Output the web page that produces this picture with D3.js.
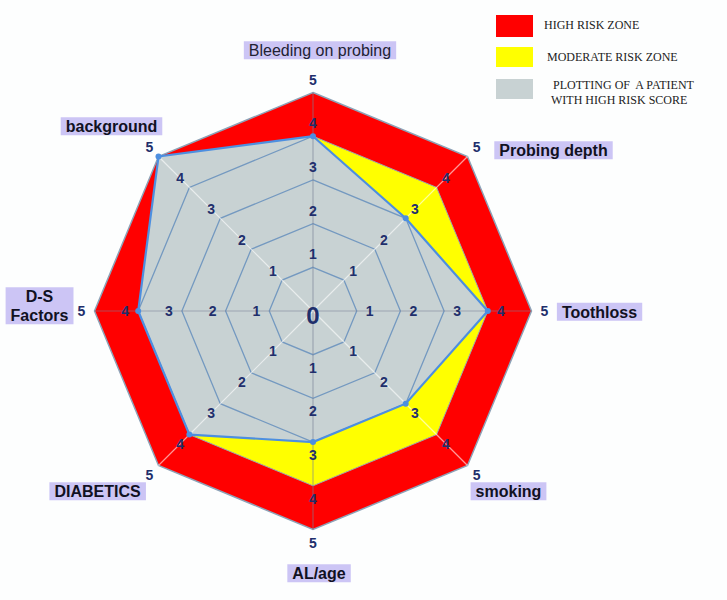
<!DOCTYPE html>
<html><head><meta charset="utf-8">
<script src="https://cdn.jsdelivr.net/npm/d3@7"></script>
<style>html,body{margin:0;padding:0;background:#fdfefe;}svg{display:block;}</style>
</head><body>
<script>
const categories = ["Bleeding on probing","Probing depth","Toothloss","smoking","AL/age","DIABETICS","D-S Factors","background"];
const highRisk = [5,5,5,5,5,5,5,5];
const moderateRisk = [4,4,4,4,4,4,4,4];
const patient = [4,3,4,3,3,4,4,5];
const tickValues = [1,2,3,4,5];
const legendItems = ["HIGH RISK ZONE","MODERATE RISK ZONE","PLOTTING OF  A PATIENT|WITH HIGH RISK SCORE"];

const W = 727, H = 600, cx = 313, cy = 311;
const svg = d3.select("body").append("svg").attr("width", W).attr("height", H);
const r = d3.scaleLinear().domain([0,5]).range([0,218.5]);
const ang = d3.scalePoint().domain(d3.range(categories.length)).range([0, 2*Math.PI*(categories.length-1)/categories.length]);
const pt = (i, v) => [cx + r(v)*Math.sin(ang(i)), cy - r(v)*Math.cos(ang(i))];
const line = d3.line().curve(d3.curveLinearClosed);
const poly = vals => line(vals.map((v,i)=>pt(i,v)));

// zones
svg.append("path").attr("d", poly(highRisk)).attr("fill","#ff0000").attr("stroke","#8da3b8").attr("stroke-width",1.5);
svg.append("path").attr("d", poly(moderateRisk)).attr("fill","#ffff00").attr("stroke","#9aa8b0").attr("stroke-width",1);
// patient fill
svg.append("path").attr("d", poly(patient)).attr("fill","#c8d2d3");

// grid clipped to patient
svg.append("clipPath").attr("id","pc").append("path").attr("d", poly(patient));
const g = svg.append("g").attr("clip-path","url(#pc)");
[1,2,3,4].forEach(t => {
  g.append("path").attr("d", poly(categories.map(()=>t))).attr("fill","none").attr("stroke","#7499c0").attr("stroke-width",1.3);
});

// spokes
categories.forEach((c,i) => {
  const p = pt(i,5);
  const diag = i % 2 === 1;
  svg.append("line").attr("x1",cx).attr("y1",cy).attr("x2",p[0]).attr("y2",p[1])
    .attr("stroke", diag ? "rgba(255,255,255,0.6)" : "rgba(120,130,150,0.55)").attr("stroke-width",1.2);
});

// patient outline + markers
svg.append("path").attr("d", poly(patient)).attr("fill","none").attr("stroke","#4d8fe0").attr("stroke-width",2.2);
patient.forEach((v,i) => {
  const p = pt(i,v);
  svg.append("circle").attr("cx",p[0]).attr("cy",p[1]).attr("r",3).attr("fill","#4d8fe0");
});

// tick labels
const tickColor = "#1f2f6c";
categories.forEach((c,i) => {
  tickValues.forEach(t => {
    const p = pt(i, t + 13/r(1));
    svg.append("text").attr("x",p[0]).attr("y",p[1]).attr("dy","0.36em")
      .attr("text-anchor","middle").attr("font-family","Liberation Sans, Arial, sans-serif")
      .attr("font-size", 14).attr("font-weight","bold").attr("fill", tickColor).text(t);
  });
});
svg.append("text").attr("x",cx).attr("y",cy+4).attr("dy","0.36em").attr("text-anchor","middle")
  .attr("font-family","Liberation Sans, Arial, sans-serif").attr("font-size",24).attr("font-weight","bold")
  .attr("fill",tickColor).text("0");

// category labels (layout offsets from axis end)
const labelOffsets = [[7,-42],[86,-6],[68,1],[41,26],[6,44],[-61,26],[-55,-5],[-47,-30]];
categories.forEach((c,i) => {
  const p = pt(i,5);
  const x = p[0] + labelOffsets[i][0], y = p[1] + labelOffsets[i][1];
  const lines = c === "D-S Factors" ? ["D-S","Factors"] : [c];
  const bold = i !== 0;
  const grp = svg.append("g");
  const lh = 19;
  lines.forEach((ln,k) => grp.append("text").attr("x",x)
      .attr("y", y + (k - (lines.length-1)/2)*lh).attr("dy","0.36em")
      .attr("text-anchor","middle").attr("font-family","Liberation Sans, Arial, sans-serif")
      .attr("font-size",16).attr("font-weight", bold ? "bold" : "normal")
      .attr("fill", bold ? "#111122" : "#222233").text(ln));
  const bb = grp.node().getBBox();
  grp.insert("rect","text").attr("x",bb.x-5).attr("y",bb.y-1).attr("width",bb.width+10).attr("height",bb.height+1)
    .attr("fill","#ccc5f5");
});

// legend
const legColors = ["#ff0000","#ffff00","#c8d2d3"];
const legY = [15,47,79];
legendItems.forEach((t,i) => {
  svg.append("rect").attr("x",496).attr("y",legY[i]).attr("width",37).attr("height", i===0?22:20).attr("fill",legColors[i]);
  const parts = t.split("|");
  parts.forEach((p,k) => {
    svg.append("text").attr("x", i===2 ? (k===0?553:551) : (i===0?544:547))
      .attr("y", legY[i] + (i===2 ? 6 + k*15 : 10)).attr("dy","0.36em")
      .attr("xml:space","preserve").style("white-space","pre")
      .attr("font-family","Liberation Serif, Times New Roman, serif").attr("font-size",12)
      .attr("fill","#222").text(p);
  });
});
</script>
</body></html>
